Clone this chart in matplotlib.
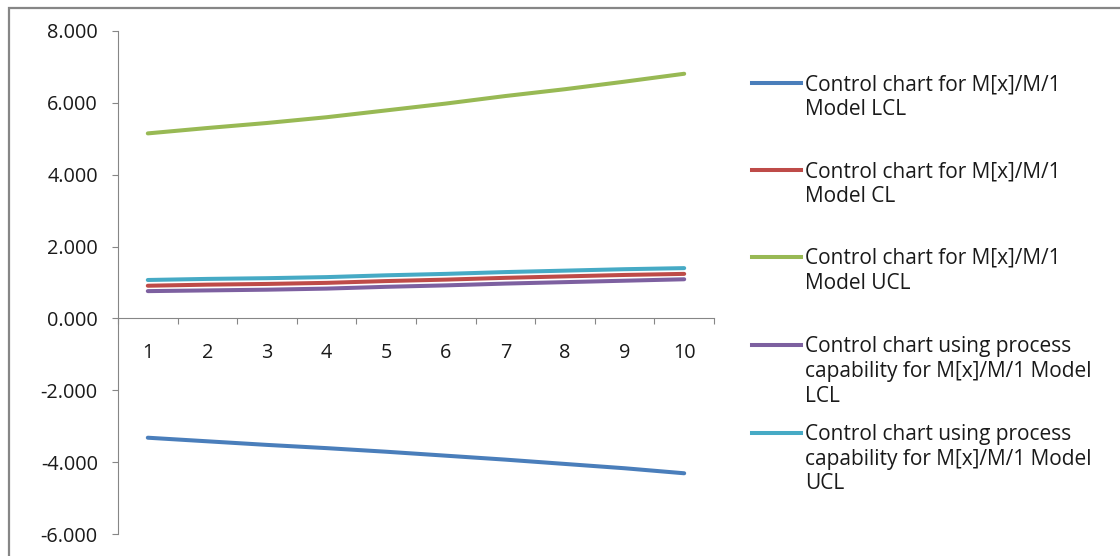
import matplotlib
matplotlib.use("Agg")
import matplotlib.pyplot as plt
from matplotlib.lines import Line2D
from matplotlib.patches import Rectangle
from matplotlib.ticker import FixedLocator, FuncFormatter, NullFormatter

plt.rcParams['font.family'] = ['Open Sans', 'DejaVu Sans']

# Samples 1..10
categories = ["1", "2", "3", "4", "5", "6", "7", "8", "9", "10"]

lcl = [-3.32, -3.42, -3.52, -3.61, -3.71, -3.82, -3.93, -4.05, -4.17, -4.31]
cl = [0.91, 0.94, 0.96, 0.99, 1.04, 1.08, 1.13, 1.17, 1.21, 1.24]
ucl = [5.15, 5.30, 5.44, 5.60, 5.79, 5.98, 6.19, 6.38, 6.59, 6.81]
pc_lcl = [0.76, 0.78, 0.80, 0.83, 0.88, 0.92, 0.97, 1.01, 1.05, 1.09]
pc_ucl = [1.07, 1.10, 1.12, 1.15, 1.20, 1.24, 1.29, 1.33, 1.37, 1.40]

series = [lcl, cl, ucl, pc_lcl, pc_ucl]
labels = [
    "Control chart for M[x]/M/1\nModel LCL",
    "Control chart for M[x]/M/1\nModel CL",
    "Control chart for M[x]/M/1\nModel UCL",
    "Control chart using process\ncapability for M[x]/M/1 Model\nLCL",
    "Control chart using process\ncapability for M[x]/M/1 Model\nUCL",
]
colors = ["#4a7ebb", "#be4b48", "#98b954", "#7d60a0", "#46aac5"]

y_ticks = [-6, -4, -2, 0, 2, 4, 6, 8]

W, H = 1120, 556
fig = plt.figure(figsize=(W / 100, H / 100), dpi=100)
fig.patch.set_facecolor("white")

# chart area frame
fig.add_artist(Rectangle((9 / W, -0.02), 1.05, 1 - 7.5 / H + 0.02,
                         transform=fig.transFigure, fill=False,
                         edgecolor="#868686", linewidth=1.6))

ax = fig.add_axes([118 / W, 1 - 534 / H, (714 - 118) / W, (534 - 31) / H])
xs = list(range(len(categories)))
for vals, col, lab in zip(series, colors, labels):
    ax.plot(xs, vals, color=col, linewidth=2.9, solid_capstyle="round", label=lab)

ax.set_xlim(-0.5, len(categories) - 0.5)
ax.set_ylim(min(y_ticks), max(y_ticks))

axis_col = "#868686"
for s in ("top", "right"):
    ax.spines[s].set_visible(False)
ax.spines["left"].set_color(axis_col)
ax.spines["bottom"].set_color(axis_col)
ax.spines["left"].set_linewidth(0.8)
ax.spines["bottom"].set_linewidth(0.8)
ax.spines["bottom"].set_position(("data", 0))

ax.yaxis.set_major_locator(FixedLocator(y_ticks))
ax.yaxis.set_major_formatter(FuncFormatter(lambda v, p: f"{v:.3f}"))
ax.tick_params(axis="y", direction="out", length=4.5, width=0.8, color=axis_col,
               pad=10, labelsize=14.3, labelcolor="#1a1a1a")

# ticks between categories, labels at category centres
ax.xaxis.set_major_locator(FixedLocator([i - 0.5 for i in range(len(categories) + 1)]))
ax.xaxis.set_major_formatter(NullFormatter())
ax.xaxis.set_minor_locator(FixedLocator(xs))
ax.set_xticklabels(categories, minor=True)
ax.tick_params(axis="x", which="major", direction="out", length=4.5, width=0.8, color=axis_col)
ax.tick_params(axis="x", which="minor", length=0, pad=18, labelsize=14.3, labelcolor="#1a1a1a")

# legend
baseline0 = [90.7, 177.3, 264.0, 352.3, 440.0]
line_pitch = 24.7
for lab, col, b in zip(labels, colors, baseline0):
    hy = b - 7.3
    fig.add_artist(Line2D([752 / W, 801 / W], [1 - hy / H, 1 - hy / H],
                          transform=fig.transFigure, color=col, linewidth=2.9))
    for k, part in enumerate(lab.split("\n")):
        fig.text(805 / W, 1 - (b + k * line_pitch) / H, part, ha="left", va="baseline",
                 fontsize=15, color="#1a1a1a")

fig.savefig("out.png", dpi=100, facecolor="white")
